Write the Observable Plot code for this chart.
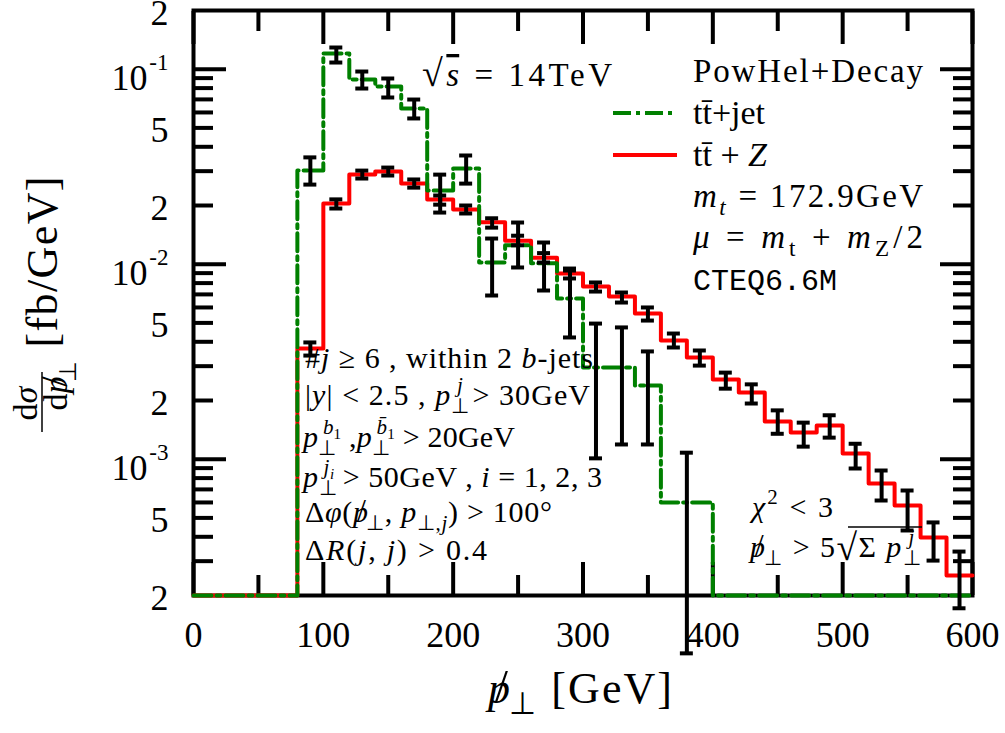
<!DOCTYPE html>
<html><head><meta charset="utf-8">
<script src="https://cdn.jsdelivr.net/npm/d3@7"></script>
<script src="https://cdn.jsdelivr.net/npm/@observablehq/plot@0.6"></script>
<style>body{margin:0;background:#fff}</style>
</head><body><div id="chart"></div>
<script>
// ---- data ----
const binEdges = [0,20,40,60,80,100,120,140,160,180,200,220,240,260,280,300,320,340,360,380,400,420,440,460,480,500,520,540,560,580,600];
// tt+Z (red), one value per 20 GeV bin, 0 = empty bin
const ttzValues = [0,0,0,0,0.0037,0.0205,0.0288,0.0299,0.0259,0.0215,0.0191,0.0164,0.0132,0.0108,0.00896,0.00768,0.00683,0.00559,0.00406,0.00332,0.00256,0.0022,0.00156,0.00137,0.00149,0.00107,0.00075,0.000579,0.000397,0.000253];
// tt+jet (green)
const ttjValues = [0,0,0,0,0.0302,0.1203,0.0886,0.0815,0.0629,0.0239,0.0310,0.0102,0.0125,0.0101,0.00667,0.00295,0.00295,0.00239,0.0006,0.0006,0,0,0,0,0,0,0,0,0,0];
// error bars
const ttzErrX  = [90,110,130,150,170,190,210,230,250,270,290,310,330,350,370,390,410,430,450,470,490,510,530,550,570,590];
const ttzErrLo = [0.0034,0.0193,0.0275,0.0285,0.0247,0.0202,0.0182,0.0154,0.0125,0.0102,0.00845,0.00724,0.00636,0.00514,0.00374,0.00302,0.0023,0.00193,0.00135,0.00116,0.00129,0.000896,0.000614,0.000431,0.000302,0.000172];
const ttzErrHi = [0.00397,0.0215,0.0302,0.0313,0.0272,0.0225,0.0200,0.0172,0.0140,0.0114,0.0095,0.00806,0.00716,0.0060,0.00441,0.00361,0.00278,0.00242,0.00178,0.00154,0.00168,0.0012,0.000875,0.000691,0.000474,0.000336];
const ttjErrX  = [90,110,130,150,170,190,210,230,250,270,290,310,330,350,380];
const ttjErrLo = [0.0256,0.1082,0.0796,0.0716,0.0559,0.0184,0.0259,0.00691,0.00962,0.00733,0.00421,0.00101,0.00119,0.00119,0.000101];
const ttjErrHi = [0.0353,0.1292,0.0973,0.0896,0.0699,0.0288,0.0361,0.01354,0.01636,0.01292,0.00928,0.00496,0.00474,0.00357,0.00108];
// axes
const xDomain = [0, 600];
const yDomain = [2e-4, 2e-1];
const xMajor = [0,100,200,300,400,500,600];
const xMinor = [50,150,250,350,450,550];
const yMajor = [1e-3,1e-2,1e-1];
const yMinor = [3e-4,4e-4,5e-4,6e-4,7e-4,8e-4,9e-4,2e-3,3e-3,4e-3,5e-3,6e-3,7e-3,8e-3,9e-3,2e-2,3e-2,4e-2,5e-2,6e-2,7e-2,8e-2,9e-2];
const yLabelValues = [2e-4,5e-4,2e-3,5e-3,2e-2,5e-2,2e-1];
const yLabelTexts = ["2","5","2","5","2","5","2"];
const yDecadeValues = [1e-3,1e-2,1e-1];
const yDecadeExp = ["-3","-2","-1"];

// ---- build ----
const floor = v => Math.max(v, yDomain[0]);
function steps(vals) {
  const pts = vals.map((v, i) => ({x: binEdges[i], y: floor(v)}));
  pts.push({x: binEdges[binEdges.length - 1], y: floor(vals[vals.length - 1])});
  return pts;
}
function errs(X, L, H) { return X.map((x, i) => ({x, lo: L[i], hi: H[i]})); }
const allErr = errs(ttzErrX, ttzErrLo, ttzErrHi).concat(errs(ttjErrX, ttjErrLo, ttjErrHi));
const RED = "#ff0000", GREEN = "#008000";
const SERIF = "'Liberation Serif','Times New Roman',serif";
const DASH = "18,5,4,5";
const capHalf = 5;
const noText = {tickFormat: () => "", label: null, strokeWidth: 4};

const plot = Plot.plot({
  width: 1005, height: 733,
  marginLeft: 193, marginRight: 33, marginTop: 10, marginBottom: 138,
  style: {background: "white", overflow: "visible"},
  x: {domain: xDomain, axis: null},
  y: {type: "log", domain: yDomain, axis: null},
  marks: [
    Plot.frame({stroke: "black", strokeWidth: 4}),
    Plot.axisX(xMajor, {anchor: "bottom", tickSize: -33, ...noText}),
    Plot.axisX(xMinor, {anchor: "bottom", tickSize: -20, ...noText}),
    Plot.axisX(xMajor, {anchor: "top", tickSize: -33, ...noText}),
    Plot.axisX(xMinor, {anchor: "top", tickSize: -20, ...noText}),
    Plot.axisY(yMajor, {anchor: "left", tickSize: -33, ...noText}),
    Plot.axisY(yMinor, {anchor: "left", tickSize: -20, ...noText}),
    Plot.axisY(yMajor, {anchor: "right", tickSize: -33, ...noText}),
    Plot.axisY(yMinor, {anchor: "right", tickSize: -20, ...noText}),
    Plot.line(steps(ttzValues), {x: "x", y: "y", curve: "step-after", stroke: RED, strokeWidth: 4}),
    Plot.line(steps(ttjValues), {x: "x", y: "y", curve: "step-after", stroke: GREEN, strokeWidth: 4, strokeDasharray: DASH}),
    Plot.ruleX(allErr, {x: "x", y1: "lo", y2: "hi", stroke: "black", strokeWidth: 4}),
    Plot.ruleY(allErr, {y: "lo", x1: d => d.x - capHalf, x2: d => d.x + capHalf, stroke: "black", strokeWidth: 4}),
    Plot.ruleY(allErr, {y: "hi", x1: d => d.x - capHalf, x2: d => d.x + capHalf, stroke: "black", strokeWidth: 4}),
    Plot.text(xMajor, {x: d => d, y: () => yDomain[0], dy: 40, text: d => String(d), fontSize: 36, fontFamily: SERIF, lineAnchor: "middle", textAnchor: "middle"}),
    Plot.text(yLabelValues, {x: () => xDomain[0], y: d => d, dx: -25, dy: 3, text: (d, i) => yLabelTexts[i], fontSize: 36, fontFamily: SERIF, textAnchor: "end", lineAnchor: "middle"}),
    Plot.text(yDecadeValues, {x: () => xDomain[0], y: d => d, dx: -46, dy: 9, text: () => "10", fontSize: 36, fontFamily: SERIF, textAnchor: "end", lineAnchor: "middle"}),
    Plot.text(yDecadeValues, {x: () => xDomain[0], y: d => d, dx: -25, dy: -7, text: (d, i) => yDecadeExp[i], fontSize: 23, fontFamily: SERIF, textAnchor: "end", lineAnchor: "middle"})
  ]
});
document.getElementById("chart").appendChild(plot);

// ---- annotations ----
const g = d3.select(plot).append("g");
function tex(x, y, parts, o = {}) {
  const size = o.size || 30;
  const t = g.append("text").attr("x", x).attr("y", y)
    .attr("font-family", o.family || SERIF).attr("font-size", size)
    .attr("text-anchor", o.anchor || "start").attr("fill", "black");
  if (o.rotate) t.attr("transform", `rotate(${o.rotate},${x},${y})`);
  if (o.width) t.attr("textLength", o.width).attr("lengthAdjust", "spacing");
  for (const p of parts) {
    const [s, st] = typeof p === "string" ? [p, {}] : p;
    const ts = t.append("tspan").text(s);
    let fs = 1, shift = 0;
    if (st.sub) { fs = 0.7; shift = 0.25; }
    if (st.sup) { fs = 0.7; shift = -0.42; }
    if (st.ss) { fs = 0.5; shift = -0.28; }
    if (st.big) { fs = st.big; }
    ts.attr("font-size", size * fs).attr("y", y + shift * size + (st.dy || 0));
    if (st.i) ts.attr("font-style", "italic");
    if (st.dx) ts.attr("dx", st.dx * size);
    if (st.over) ts.style("text-decoration", "overline");
  }
  return t;
}
const I = {i: true}, SUB = {sub: true}, SUP = {sup: true};
// slashed p (missing transverse momentum) followed by a perp subscript
const PSL = [["p", I], ["/", {dx: -0.4, big: 1.1}], ["\u22A5", {sub: true, dx: -0.02}]];
const PT = [["p", I], ["\u22A5", SUB]];

// legend lines
g.append("line").attr("x1", 613).attr("x2", 677).attr("y1", 113).attr("y2", 113)
  .attr("stroke", GREEN).attr("stroke-width", 4).attr("stroke-dasharray", DASH);
g.append("line").attr("x1", 613).attr("x2", 677).attr("y1", 155).attr("y2", 155)
  .attr("stroke", RED).attr("stroke-width", 4);

tex(422, 86, [["\u221A", {big: 1.15}], ["s", {i: true, over: true}], " = 14TeV"], {size: 33, width: 190});
tex(693, 82, ["PowHel+Decay"], {size: 33, width: 230});
tex(693, 124, ["tt\u0304+jet"], {size: 34});
tex(693, 166, ["tt\u0304 + ", ["Z", I]], {size: 34});
tex(693, 207, [["m", I], ["t", {i: true, sub: true}], " = 172.9GeV"], {size: 33, width: 230});
tex(693, 248, [["\u03BC", I], " = ", ["m", I], ["t", SUB], " + ", ["m", I], ["Z", SUB], "/2"], {size: 33, width: 230});
tex(693, 290, ["CTEQ6.6M"], {family: "'Liberation Mono','DejaVu Sans Mono',monospace", size: 30, width: 144});

const CS = 30;
tex(305, 368, ["#", ["j", I], " \u2265 6 , within 2 ", ["b", I], "-jets"], {width: 288, size: CS});
tex(305, 405, ["|", ["y", I], "| < 2.5 , ", ...PT, ["j", {i: true, sup: true, dx: -0.45}], " > 30GeV"], {width: 285, size: CS});
tex(303, 447, [...PT, ["b", {i: true, sup: true, dx: -0.45}], ["1", {ss: true}], " ,", ...PT, ["b\u0304", {i: true, sup: true, dx: -0.45}], ["1", {ss: true}], " > 20GeV"], {width: 212, size: CS});
tex(303, 487, [...PT, ["j", {i: true, sup: true, dx: -0.45}], ["i", {i: true, ss: true}], " > 50GeV , ", ["i", I], " = 1, 2, 3"], {width: 299, size: CS});
tex(305, 522, ["\u0394", ["\u03C6", I], "(", ...PSL, ", ", ["p", I], ["\u22A5,", SUB], ["j", {i: true, sub: true}], ") > 100\u00B0"], {width: 247, size: CS});
tex(305, 560, ["\u0394", ["R", I], "(", ["j", I], ", ", ["j", I], ") > 0.4"], {width: 182, size: CS});

tex(752, 517, [["\u03C7", I], ["2", SUP], " < 3"], {width: 81, size: CS});
tex(750, 557, [...PSL, " > 5", ["\u221A", {big: 1.25, dy: 3}], "\u03A3 ", ...PT, ["j", {i: true, sup: true, dx: -0.45}]], {width: 172, size: CS});
g.append("line").attr("x1", 848).attr("x2", 922).attr("y1", 527).attr("y2", 527).attr("stroke", "black").attr("stroke-width", 1.3);

// axis titles
tex(488, 703, [...PSL, " [GeV]"], {size: 44, width: 184});
tex(57, 262, ["[fb/GeV]"], {size: 44, anchor: "middle", rotate: -90, width: 171});
tex(37, 412, ["d", ["\u03C3", I]], {size: 34, anchor: "middle", rotate: -90});
tex(67, 402, ["d", ...PSL], {size: 34, anchor: "middle", rotate: -90});
g.append("line").attr("x1", 42).attr("x2", 42).attr("y1", 372).attr("y2", 432).attr("stroke", "black").attr("stroke-width", 1.5);
</script></body></html>
